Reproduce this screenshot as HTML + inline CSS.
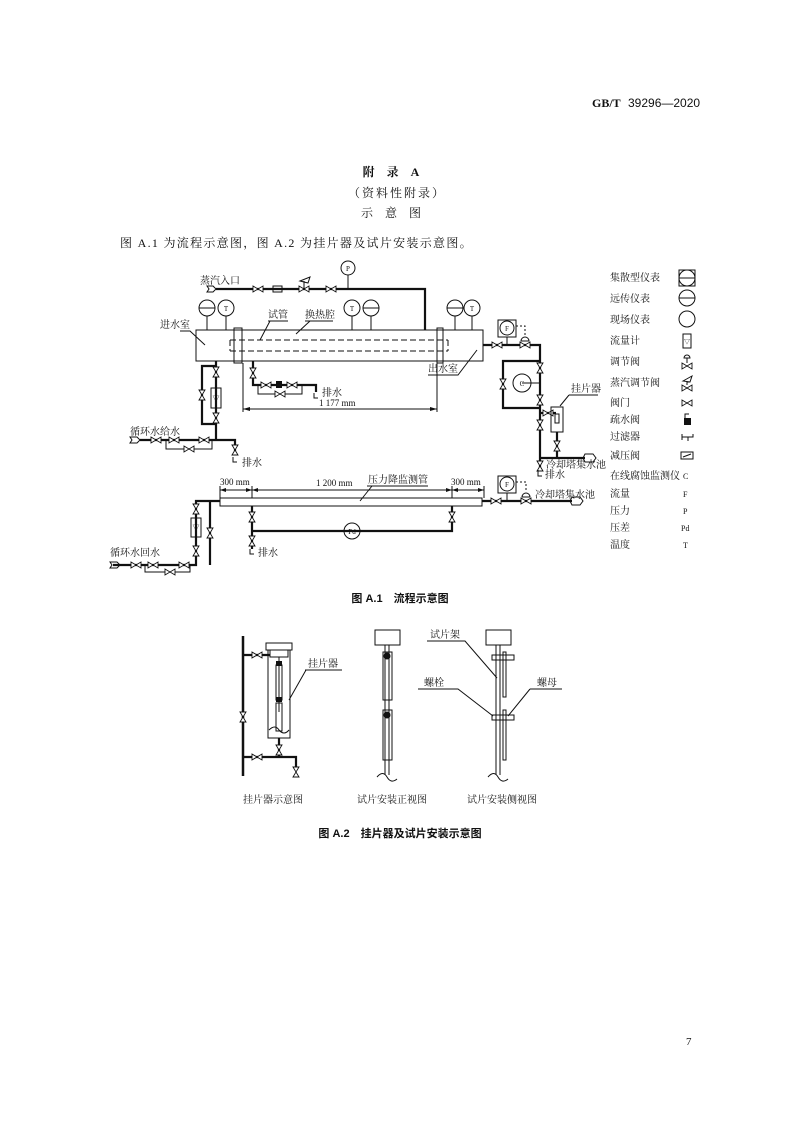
<!DOCTYPE html>
<html><head><meta charset="utf-8"><style>
html,body{margin:0;padding:0;background:#fff}
svg{display:block}
text{font-family:"Liberation Serif","Noto Serif CJK SC",serif;fill:#111}
.s{font-size:10px}
.l{stroke:#111;stroke-width:1;fill:none}
.t{stroke:#111;stroke-width:2.2;fill:none}
</style></head><body>
<svg width="794" height="1122" viewBox="0 0 794 1122" xmlns="http://www.w3.org/2000/svg">
<defs>
<g id="vh"><path d="M-5,-3 L5,3 L5,-3 L-5,3 Z" fill="#fff" stroke="#111" stroke-width="0.9"/></g>
<g id="vv"><path d="M-3,-5 L3,5 L-3,5 L3,-5 Z" fill="#fff" stroke="#111" stroke-width="0.9"/></g>
</defs>
<text x="592" y="107" style="font-size:12px;font-weight:bold">GB/T</text>
<text x="628" y="107" style="font-size:12px;font-family:'Liberation Sans',sans-serif">39296—2020</text>
<text x="397" y="176" text-anchor="middle" style="font-size:12px;font-weight:bold;letter-spacing:12px">附录A</text>
<text x="397" y="197" text-anchor="middle" style="font-size:12px;letter-spacing:2px">（资料性附录）</text>
<text x="397" y="217" text-anchor="middle" style="font-size:12px;letter-spacing:12px">示意图</text>
<text x="120" y="247" style="font-size:12px;letter-spacing:1.3px">图 A.1 为流程示意图，图 A.2 为挂片器及试片安装示意图。</text>

<!-- steam -->
<text x="200" y="284" class="s">蒸汽入口</text>
<path d="M207,286 h6 l3,3 l-3,3 h-6 l2,-3 z" class="l"/>
<path class="t" d="M216,289 H425 V330"/>
<use href="#vh" x="258" y="289"/><rect x="273" y="286" width="9" height="6" class="l" fill="#fff"/>
<use href="#vh" x="304" y="289"/><use href="#vh" x="331" y="289"/>
<path class="l" d="M304,289 V281 M300,281 L310,277 L308,283 Z"/>
<line x1="348" y1="289" x2="348" y2="275" class="l"/><circle cx="348" cy="268" r="7" class="l" fill="#fff"/><text x="348" y="271" text-anchor="middle" style="font-size:7px">P</text>

<!-- vessel -->
<rect x="196" y="330" width="287" height="31" class="l"/>
<rect x="234" y="328" width="8" height="35" class="l" fill="#fff"/>
<rect x="437" y="328" width="6" height="35" class="l" fill="#fff"/>
<path d="M230,340 H448 M230,351 H448 M230,340 V351 M448,340 V351" stroke="#111" stroke-dasharray="6,3" fill="none"/>
<g class="l">
<line x1="207" y1="316" x2="207" y2="330"/><line x1="226" y1="316" x2="226" y2="330"/>
<line x1="352" y1="316" x2="352" y2="330"/><line x1="371" y1="316" x2="371" y2="330"/>
<line x1="455" y1="316" x2="455" y2="330"/><line x1="472" y1="316" x2="472" y2="330"/>
</g>
<g fill="#fff" stroke="#111">
<circle cx="207" cy="308" r="8"/><circle cx="226" cy="308" r="8"/><circle cx="352" cy="308" r="8"/><circle cx="371" cy="308" r="8"/><circle cx="455" cy="308" r="8"/><circle cx="472" cy="308" r="8"/>
</g>
<path d="M199,308 H215 M363,308 H379 M447,308 H463" class="l"/>
<g style="font-size:7px" text-anchor="middle"><text x="226" y="311">T</text><text x="352" y="311">T</text><text x="472" y="311">T</text></g>
<text x="160" y="328" class="s">进水室</text>
<path d="M180,331 H190 L205,345" class="l"/>
<text x="268" y="318" class="s">试管</text><path d="M268,321 H288 M270,321 L260,340" class="l"/>
<text x="305" y="318" class="s">换热腔</text><path d="M305,321 H333 M310,321 L296,334" class="l"/>
<text x="428" y="372" class="s">出水室</text><path d="M428,375 H458 L477,350" class="l"/>

<!-- left feed -->
<path class="t" d="M216,361 V440 M216,366 H202 V424 H216"/>
<use href="#vv" x="216" y="372"/><use href="#vv" x="216" y="418"/><use href="#vv" x="202" y="395"/>
<rect x="211" y="388" width="10" height="20" class="l" fill="#fff"/><text x="216" y="401" text-anchor="middle" style="font-size:7px">▽</text>
<text x="130" y="435" class="s">循环水给水</text>
<path d="M130,437 h7 l3,3 l-3,3 h-7 l2,-3 z" class="l"/>
<path class="t" d="M140,440 H235 V455"/>
<path class="l" d="M166,440 V449 H212 V440"/>
<use href="#vh" x="156" y="440"/><use href="#vh" x="174" y="440"/><use href="#vh" x="204" y="440"/><use href="#vh" x="189" y="449"/>
<use href="#vv" x="235" y="450"/><path d="M233,457 V462 H237" class="l"/>
<text x="242" y="466" class="s">排水</text>

<!-- drain from vessel -->
<path class="t" d="M253,361 V385 H316 V392"/>
<path class="l" d="M258,385 V394 H302 V385"/>
<use href="#vv" x="253" y="373"/><use href="#vh" x="266" y="385"/><rect x="276" y="381" width="6" height="7" fill="#111"/><use href="#vh" x="292" y="385"/><use href="#vh" x="280" y="394"/>
<path d="M314,393 V398 H318" class="l"/>
<text x="322" y="396" class="s">排水</text>
<text x="319" y="406" style="font-size:9px">1 177 mm</text>
<path d="M243,363 V412 M437,363 V412 M243,409 H437" class="l"/>
<path d="M243,409 l7,-2 v4 z M437,409 l-7,-2 v4 z" fill="#111"/>

<!-- right side -->
<path class="t" d="M483,345 H540 V458 H585 M540,458 V470"/>
<use href="#vh" x="497" y="345"/><use href="#vh" x="525" y="345"/>
<rect x="498" y="320" width="18" height="17" class="l"/><circle cx="507" cy="328" r="7" class="l" fill="#fff"/><text x="507" y="331" text-anchor="middle" style="font-size:7px">F</text>
<line x1="507" y1="337" x2="507" y2="345" class="l"/>
<path d="M516,326 H525 V336" stroke="#111" stroke-dasharray="2,2" fill="none"/>
<path d="M521,341 a4,4 0 0 1 8,0 z" class="l"/>
<path class="t" d="M540,361 H503 V408 H540"/>
<use href="#vv" x="540" y="368"/><use href="#vv" x="540" y="400"/><use href="#vv" x="503" y="384"/>
<circle cx="522" cy="383" r="9" class="l" fill="#fff"/><line x1="522" y1="383" x2="540" y2="383" class="l"/><text x="522" y="386" text-anchor="middle" style="font-size:7px">C</text>
<path class="t" d="M540,413 H556"/><use href="#vh" x="548" y="413"/>
<use href="#vv" x="540" y="425"/>
<rect x="551" y="407" width="12" height="25" class="l" fill="#fff"/><rect x="555" y="414" width="4" height="9" class="l"/>
<path class="t" d="M557,432 V458"/><use href="#vv" x="557" y="446"/>
<text x="571" y="392" class="s">挂片器</text><path d="M569,395 H598 M569,395 L560,406" class="l"/>
<path d="M585,454 h8 l3,4 l-3,4 h-8 l-2,-4 z" class="l" fill="#fff"/>
<use href="#vv" x="540" y="466"/><path d="M538,470 V476 H542" class="l"/>
<text x="546" y="468" class="s">冷却塔集水池</text>
<text x="545" y="478" class="s">排水</text>

<!-- lower pressure tube -->
<rect x="220" y="498" width="262" height="8" class="l" fill="#fff"/>
<path class="l" d="M220,486 V498 M252,486 V498 M452,486 V498 M484,486 V498 M220,490 H484"/>
<path d="M220,490 l6,-2 v4z M252,490 l-6,-2 v4z M252,490 l6,-2 v4z M452,490 l-6,-2 v4z M452,490 l6,-2 v4z M484,490 l-6,-2 v4z" fill="#111"/>
<text x="220" y="485" style="font-size:9px">300 mm</text>
<text x="316" y="486" style="font-size:9px">1 200 mm</text>
<text x="368" y="483" class="s">压力降监测管</text><path d="M367,486 H428 M372,486 L360,501" class="l"/>
<text x="451" y="485" style="font-size:9px">300 mm</text>
<path class="t" d="M482,501 H572"/>
<use href="#vh" x="496" y="501"/><use href="#vh" x="526" y="501"/>
<rect x="498" y="476" width="18" height="17" class="l"/><circle cx="507" cy="484" r="7" class="l" fill="#fff"/><text x="507" y="487" text-anchor="middle" style="font-size:7px">F</text>
<line x1="507" y1="493" x2="507" y2="501" class="l"/>
<path d="M516,482 H526 V492" stroke="#111" stroke-dasharray="2,2" fill="none"/>
<path d="M522,497 a4,4 0 0 1 8,0 z" class="l"/>
<path d="M572,497 h8 l3,4 l-3,4 h-8 l-2,-4 z" class="l" fill="#fff"/>
<text x="535" y="498" class="s">冷却塔集水池</text>
<path class="t" d="M252,506 V549 M452,506 V531 H252"/>
<use href="#vv" x="252" y="517"/><use href="#vv" x="452" y="517"/><use href="#vv" x="252" y="541"/>
<circle cx="352" cy="531" r="8" class="l" fill="#fff"/><text x="352" y="534" text-anchor="middle" style="font-size:7px">Pd</text>
<path d="M250,549 V554 H254" class="l"/><text x="258" y="556" class="s">排水</text>
<path class="t" d="M220,501 H196 V565 H113 M210,501 V565"/>
<use href="#vv" x="196" y="509"/><use href="#vv" x="196" y="551"/><use href="#vv" x="210" y="533"/>
<rect x="191" y="518" width="10" height="19" class="l" fill="#fff"/><text x="196" y="530" text-anchor="middle" style="font-size:7px">▽</text>
<text x="110" y="556" class="s">循环水回水</text>
<path d="M110,562 h7 l3,3 l-3,3 h-7 l2,-3 z" class="l"/>
<path class="l" d="M145,565 V572 H190 V565"/>
<use href="#vh" x="136" y="565"/><use href="#vh" x="153" y="565"/><use href="#vh" x="184" y="565"/><use href="#vh" x="170" y="572"/>

<!-- legend -->
<g class="s">
<text x="610" y="281">集散型仪表</text><text x="610" y="302">远传仪表</text><text x="610" y="323">现场仪表</text>
<text x="610" y="344">流量计</text><text x="610" y="365">调节阀</text><text x="610" y="386">蒸汽调节阀</text>
<text x="610" y="406">阀门</text><text x="610" y="423">疏水阀</text><text x="610" y="440">过滤器</text>
<text x="610" y="459">减压阀</text><text x="610" y="479">在线腐蚀监测仪</text><text x="610" y="497">流量</text>
<text x="610" y="514">压力</text><text x="610" y="531">压差</text><text x="610" y="548">温度</text>
</g>
<g style="font-size:8px"><text x="683" y="479">C</text><text x="683" y="497">F</text><text x="683" y="514">P</text><text x="681" y="531">Pd</text><text x="683" y="548">T</text></g>
<rect x="679" y="270" width="16" height="16" class="l"/><circle cx="687" cy="278" r="8" class="l"/><line x1="679" y1="278" x2="695" y2="278" class="l"/>
<circle cx="687" cy="298" r="8" class="l"/><line x1="679" y1="298" x2="695" y2="298" class="l"/>
<circle cx="687" cy="319" r="8" class="l"/>
<rect x="683" y="334" width="8" height="14" class="l"/><text x="687" y="344" text-anchor="middle" style="font-size:6px">▽</text>
<use href="#vh" x="687" y="366"/><path d="M687,363 V358 M684,358 a3,3 0 0 1 6,0 z" class="l"/>
<use href="#vh" x="687" y="388"/><path d="M687,385 V381 M683,381 L692,376 L690,382 Z" class="l"/>
<use href="#vh" x="687" y="403"/>
<rect x="684" y="418" width="7" height="7" fill="#111"/><path d="M685,418 V414 H689" class="l"/>
<path d="M682,434 V440 M682,437 H693 V434 M688,437 V441" class="l"/>
<rect x="681" y="452" width="12" height="7" class="l"/><path d="M683,457 L691,454" class="l"/>

<text x="400" y="602" text-anchor="middle" style="font-size:11px;font-weight:bold;font-family:'Liberation Sans','Noto Sans CJK SC',sans-serif">图 A.1　流程示意图</text>

<!-- Fig A.2 left -->
<path d="M243,636 V776" stroke="#111" stroke-width="2.5"/>
<path class="t" d="M243,655 H270 M243,757 H296 V768 M279,738 V757"/>
<use href="#vh" x="257" y="655"/><use href="#vh" x="257" y="757"/><use href="#vv" x="243" y="717"/><use href="#vv" x="279" y="750"/><use href="#vv" x="296" y="772"/>
<rect x="268" y="650" width="22" height="88" class="l" fill="#fff"/>
<rect x="266" y="643" width="26" height="7" class="l" fill="#fff"/><rect x="270" y="650" width="18" height="7" class="l"/>
<path d="M279,657 V712" class="l"/>
<rect x="276" y="665" width="6" height="35" class="l"/><rect x="276" y="703" width="6" height="28" class="l"/>
<rect x="276" y="661" width="6" height="5" fill="#111"/><rect x="276" y="697" width="6" height="5" fill="#111"/>
<path d="M269,730 q6,-6 10,0 q5,6 10,0" class="l"/>
<text x="308" y="667" class="s">挂片器</text><path d="M305,670 H342 M306,670 L289,700" class="l"/>
<!-- center -->
<rect x="375" y="630" width="25" height="15" class="l"/>
<path d="M385,645 V775 M389,645 V775" class="l"/>
<rect x="383" y="652" width="9" height="48" class="l" fill="#fff"/><rect x="383" y="710" width="9" height="50" class="l" fill="#fff"/>
<circle cx="387" cy="656" r="3.5" fill="#111"/><circle cx="387" cy="715" r="3.5" fill="#111"/>
<path d="M377,777 q6,-7 10,0 q4,7 10,2" class="l"/>
<!-- right -->
<rect x="486" y="630" width="25" height="15" class="l"/>
<path d="M496,645 V775 M500,645 V775" class="l"/>
<rect x="503" y="652" width="3" height="45" class="l"/><rect x="503" y="710" width="3" height="50" class="l"/>
<rect x="492" y="655" width="22" height="5" class="l" fill="#fff"/><rect x="492" y="715" width="22" height="5" class="l" fill="#fff"/>
<text x="430" y="638" class="s">试片架</text><path d="M427,641 H465 L497,678" class="l"/>
<text x="424" y="686" class="s">螺栓</text><path d="M418,689 H458 L493,716" class="l"/>
<text x="537" y="686" class="s">螺母</text><path d="M530,689 H562 M530,689 L508,716" class="l"/>
<path d="M488,777 q6,-7 10,0 q4,7 10,2" class="l"/>
<g class="s"><text x="243" y="803">挂片器示意图</text><text x="357" y="803">试片安装正视图</text><text x="467" y="803">试片安装侧视图</text></g>
<text x="400" y="837" text-anchor="middle" style="font-size:11px;font-weight:bold;font-family:'Liberation Sans','Noto Sans CJK SC',sans-serif">图 A.2　挂片器及试片安装示意图</text>
<text x="686" y="1045" style="font-size:11px">7</text>
</svg>
</body></html>
